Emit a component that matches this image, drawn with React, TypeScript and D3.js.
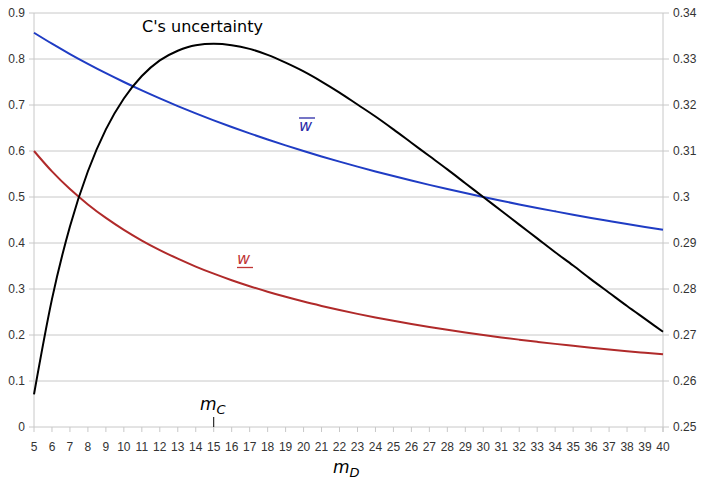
import React from "react";
import * as d3 from "d3";

// m_D from 5 to 40
const mD = [5, 6, 7, 8, 9, 10, 11, 12, 13, 14, 15, 16, 17, 18, 19, 20, 21, 22, 23, 24, 25, 26, 27, 28, 29, 30, 31, 32, 33, 34, 35, 36, 37, 38, 39, 40];

// w-bar (blue, left axis)
const wBar = [0.8571, 0.8333, 0.8108, 0.7895, 0.7692, 0.75, 0.7317, 0.7143, 0.6977, 0.6818, 0.6667, 0.6522, 0.6383, 0.625, 0.6122, 0.6, 0.5882, 0.5769, 0.566, 0.5556, 0.5455, 0.5357, 0.5263, 0.5172, 0.5085, 0.5, 0.4918, 0.4839, 0.4762, 0.4688, 0.4615, 0.4545, 0.4478, 0.4412, 0.4348, 0.4286];

// w-underline (red, left axis)
const wLow = [0.6, 0.5556, 0.5172, 0.4839, 0.4545, 0.4286, 0.4054, 0.3846, 0.3659, 0.3488, 0.3333, 0.3191, 0.3061, 0.2941, 0.283, 0.2727, 0.2632, 0.2542, 0.2459, 0.2381, 0.2308, 0.2239, 0.2174, 0.2113, 0.2055, 0.2, 0.1948, 0.1899, 0.1852, 0.1807, 0.1765, 0.1724, 0.1685, 0.1648, 0.1613, 0.1579];

// C's uncertainty (black, right axis)
const uncertainty = [0.2571, 0.2778, 0.2936, 0.3056, 0.3147, 0.3214, 0.3263, 0.3297, 0.3318, 0.333, 0.3333, 0.333, 0.3322, 0.3309, 0.3292, 0.3273, 0.3251, 0.3227, 0.3201, 0.3175, 0.3147, 0.3118, 0.3089, 0.306, 0.303, 0.3, 0.297, 0.294, 0.291, 0.288, 0.2851, 0.2821, 0.2792, 0.2763, 0.2735, 0.2707];

const leftTicks = [0, 0.1, 0.2, 0.3, 0.4, 0.5, 0.6, 0.7, 0.8, 0.9];
const rightTicks = [0.25, 0.26, 0.27, 0.28, 0.29, 0.3, 0.31, 0.32, 0.33, 0.34];
const mC = 15;

export default function App() {
  const W = 701, H = 482;
  const left = 34, right = 663, top = 13, bottom = 427;

  const x = d3.scaleLinear().domain([5, 40]).range([left, right]);
  const yL = d3.scaleLinear().domain([0, 0.9]).range([bottom, top]);
  const yR = d3.scaleLinear().domain([0.25, 0.34]).range([bottom, top]);

  const lineL = d3.line<number>().x((_, i) => x(mD[i])).y(d => yL(d)).curve(d3.curveMonotoneX);
  const lineR = d3.line<number>().x((_, i) => x(mD[i])).y(d => yR(d)).curve(d3.curveMonotoneX);

  const labelFont = "'Liberation Sans', Arial, sans-serif";
  const grid = "#c8c8c8";

  return (
    <svg width={W} height={H} style={{ position: "absolute", left: 0, top: 0, background: "#fff" }}>
      <rect width={W} height={H} fill="#fff" />
      {/* horizontal grid + left ticks */}
      {leftTicks.map(t => (
        <g key={"l" + t}>
          <line x1={left - 5} x2={right} y1={yL(t)} y2={yL(t)} stroke={grid} strokeWidth={1} />
          <text x={25} y={yL(t)} dy="0.35em" textAnchor="end" fontFamily={labelFont} fontSize={12} fill="#333">
            {d3.format("")(t)}
          </text>
        </g>
      ))}
      {rightTicks.map(t => (
        <g key={"r" + t}>
          <line x1={right} x2={right + 6} y1={yR(t)} y2={yR(t)} stroke={grid} strokeWidth={1} />
          <text x={673} y={yR(t)} dy="0.35em" textAnchor="start" fontFamily={labelFont} fontSize={12} fill="#333">
            {d3.format("")(t)}
          </text>
        </g>
      ))}
      {/* axes */}
      <line x1={left} x2={left} y1={top} y2={bottom} stroke={grid} />
      <line x1={right} x2={right} y1={top} y2={bottom + 5} stroke={grid} />
      {mD.map(m => (
        <g key={"x" + m}>
          <line x1={x(m)} x2={x(m)} y1={bottom} y2={bottom + 5} stroke={grid} />
          <text x={x(m)} y={451} textAnchor="middle" fontFamily={labelFont} fontSize={12} fill="#333">{m}</text>
        </g>
      ))}

      {/* series */}
      <path d={lineL(wBar) ?? ""} fill="none" stroke="#1f3cc4" strokeWidth={2} />
      <path d={lineL(wLow) ?? ""} fill="none" stroke="#b02a2a" strokeWidth={2} />
      <path d={lineR(uncertainty) ?? ""} fill="none" stroke="#000" strokeWidth={2} />

      {/* annotations */}
      <text x={142} y={32} fontFamily="'DejaVu Sans', sans-serif" fontSize={16} fill="#000">C's uncertainty</text>

      <text x={299} y={131} fontFamily="'DejaVu Sans', sans-serif" fontStyle="italic" fontSize={16} fill="#2b2ba8">w</text>
      <line x1={299} x2={315} y1={118} y2={118} stroke="#2b2ba8" strokeWidth={1.3} />

      <text x={237} y={264} fontFamily="'DejaVu Sans', sans-serif" fontStyle="italic" fontSize={16} fill="#c03535">w</text>
      <line x1={237} x2={253} y1={267.5} y2={267.5} stroke="#c03535" strokeWidth={1.3} />

      <line x1={x(mC)} x2={x(mC)} y1={417} y2={bottom} stroke="#000" strokeWidth={1} />
      <text x={200} y={410} fontFamily="'DejaVu Sans', sans-serif" fontStyle="italic" fontSize={17} fill="#000">
        m<tspan fontSize={13} dy={4}>C</tspan>
      </text>
      <text x={333} y={473} fontFamily="'DejaVu Sans', sans-serif" fontStyle="italic" fontSize={17} fill="#000">
        m<tspan fontSize={13} dy={4}>D</tspan>
      </text>
    </svg>
  );
}
